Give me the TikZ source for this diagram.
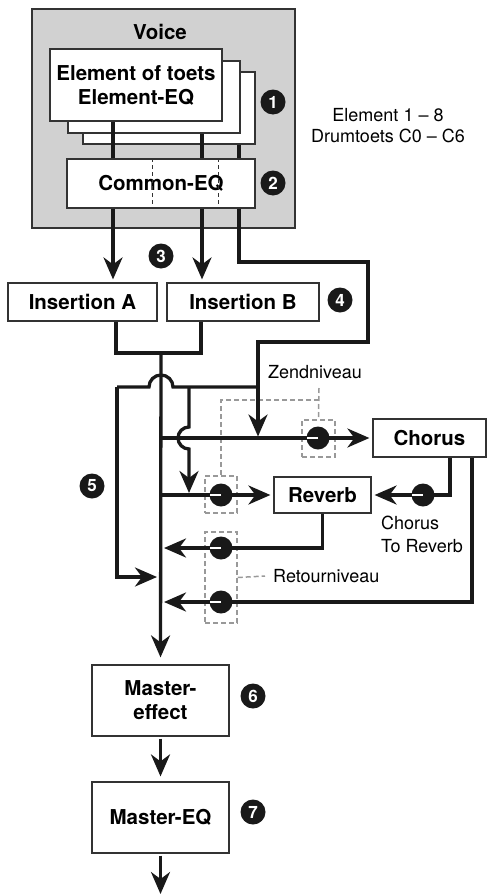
\documentclass[tikz,border=0pt]{standalone}
\usepackage{fontspec}
\setmainfont{TeX Gyre Heros}
\usetikzlibrary{arrows.meta}
\tikzset{
  >={Stealth[length=22pt,width=19pt,inset=7pt]},
  fxbox/.style={draw=black!80,line width=1.2pt,fill=white,inner sep=0pt,align=center,
    font=\fontsize{20.5}{24}\selectfont\bfseries},
  flow/.style={line width=3.3pt,draw=black!90},
  badge/.style={circle,fill=black!90,inner sep=0pt,minimum size=25pt,text=white,
    font=\fontsize{17}{17}\selectfont\bfseries},
  knob/.style={circle,fill=black!90,inner sep=0pt,minimum size=23pt,
    path picture={\draw[white,line width=2pt] (path picture bounding box.center) -- (path picture bounding box.west);}},
  lvl/.style={draw=black!40,line width=1.5pt,dash pattern=on 5pt off 3pt},
  note/.style={inner sep=0pt,align=left,font=\fontsize{18}{22}\selectfont}
}
\begin{document}
\begin{tikzpicture}[x=1pt,y=1pt]
    \useasboundingbox (0,0) rectangle (487,-894);
    \node[draw=black!80,fill=black!18,line width=1.2pt,minimum width=263pt,minimum height=219pt] (voice) at (163.5,-118.5) {};
    \node[font=\fontsize{20.5}{24}\selectfont\bfseries] (voice_t) at (160,-32) {Voice};
    \node[fxbox,minimum width=172pt,minimum height=72pt] (elem_3) at (169,-108) {};
    \node[fxbox,minimum width=172pt,minimum height=72pt] (elem_2) at (154,-97) {};
    \node[fxbox,minimum width=172pt,minimum height=72pt] (elem_1) at (136,-85) {Element of toets\\Element-EQ};
    \node[fxbox,minimum width=188pt,minimum height=49pt] (common) at (161,-183.5) {Common-EQ};
    \draw[black!80,line width=0.8pt,dash pattern=on 4pt off 3pt] ([xshift=-9pt]common.north) -- ([xshift=-9pt]common.south);
    \draw[black!80,line width=0.8pt,dash pattern=on 4pt off 3pt] ([xshift=57pt]common.north) -- ([xshift=57pt]common.south);
    \node[note,align=center,font=\fontsize{18}{21}\selectfont] (elem_n) at (388,-126) {Element 1 -- 8\\Drumtoets C0 -- C6};
    \node[fxbox,minimum width=149pt,minimum height=38pt] (ins_A) at (82.5,-302) {Insertion A};
    \node[fxbox,minimum width=152pt,minimum height=38pt] (ins_B) at (243,-302) {Insertion B};
    \node[fxbox,minimum width=113pt,minimum height=38pt] (chorus) at (429.5,-438) {Chorus};
    \node[fxbox,minimum width=97pt,minimum height=36pt] (reverb) at (322.5,-495) {Reverb};
    \node[fxbox,minimum width=137pt,minimum height=71pt] (master_1) at (160.5,-700.5) {Master-\\effect};
    \node[fxbox,minimum width=137pt,minimum height=71pt] (master_2) at (160.5,-817.5) {Master-EQ};
    \node[lvl,minimum width=33pt,minimum height=37pt] (lvl_1) at (318.5,-438.5) {};
    \node[lvl,minimum width=32pt,minimum height=37pt] (lvl_2) at (221,-494.5) {};
    \node[lvl,minimum width=32pt,minimum height=91pt] (lvl_3) at (221,-577.5) {};
    \node[note] (zend_t) at (315,-372) {Zendniveau};
    \node[note,anchor=west] (ret_t) at (273,-576) {Retourniveau};
    \node[note,anchor=west,font=\fontsize{18}{23}\selectfont] (cr_t) at (381,-534.5) {Chorus\\To Reverb};
    \coordinate (zend) at (319,-388);
    \coordinate (zend_k) at (319,-400);
    \draw[lvl] (zend) -- (lvl_1.north);
    \draw[lvl] (zend_k) -| (lvl_2.north);
    \draw[lvl] (lvl_3.east) -- ([xshift=-8pt]ret_t.west);
    \coordinate (bus) at (161,-353);
    \coordinate (j_send) at (258,-387);
    \coordinate (j_rev) at (189,-387);
    \coordinate (j_left) at (117,-387);
    \coordinate (feed) at (157,-577);
    \coordinate (ret_1) at (164,-548);
    \coordinate (ret_2) at (164,-602);
    \coordinate (k_1) at (318,-438);
    \coordinate (k_2) at (221,-495);
    \coordinate (k_3) at (423,-495);
    \coordinate (k_4) at (221,-548);
    \coordinate (k_5) at (221,-602);
    \draw[flow] ([xshift=-23pt]elem_1.south) -- ([xshift=-48pt]common.north);
    \draw[flow] ([xshift=48pt]elem_2.south) -- ([xshift=41pt]common.north);
    \draw[flow] ([xshift=70pt]elem_3.south) -- ([xshift=78pt]common.north);
    \draw[flow,->,shorten >=3pt] ([xshift=-48pt]common.south) -- ([xshift=30.5pt]ins_A.north);
    \draw[flow,->,shorten >=3pt] ([xshift=41pt]common.south) -- ([xshift=-41pt]ins_B.north);
    \draw[flow] ([xshift=78pt]common.south) |- (368,-262) |- (258,-342) -- (j_send);
    \draw[flow,->] (j_send) -- ([yshift=1.5pt]j_send |- k_1);
    \draw[flow] ([xshift=33.5pt]ins_A.south) |- (bus) -| ([xshift=-42pt]ins_B.south);
    \draw[flow,->,shorten >=7pt] (bus) -- (master_1.north);
    \draw[flow] (j_send) -- (173,-387) arc (0:180:12) -- (j_left);
    \draw[flow,->] (j_left) |- (feed);
    \draw[flow,->] (j_rev) -- (189,-427) arc (90:270:11) -- ([yshift=2pt]j_rev |- k_2);
    \draw[flow,->,shorten >=3pt] (bus |- k_1) -- (chorus.west);
    \draw[flow,->,shorten >=3pt] (bus |- k_2) -- (reverb.west);
    \draw[flow,->,shorten >=3pt] ([xshift=20.5pt]chorus.south) |- (reverb.east);
    \draw[flow,->] (reverb.south) |- (ret_1);
    \draw[flow,->] ([xshift=42.5pt]chorus.south) |- (ret_2);
    \draw[flow,->,shorten <=2pt,shorten >=5pt] (master_1.south) -- (master_2.north);
    \coordinate (out) at (160.5,-894);
    \draw[flow,->,shorten <=2pt] (master_2.south) -- (out);
    \node[knob] (knob_1) at (k_1) {};
    \node[knob] (knob_2) at (k_2) {};
    \node[knob] (knob_3) at (k_3) {};
    \node[knob] (knob_4) at (k_4) {};
    \node[knob] (knob_5) at (k_5) {};
    \node[badge] (n_1) at (273,-102) {1};
    \node[badge] (n_2) at (273,-183) {2};
    \node[badge] (n_3) at (161,-256) {3};
    \node[badge] (n_4) at (340,-300) {4};
    \node[badge] (n_5) at (92,-486) {5};
    \node[badge] (n_6) at (253,-696) {6};
    \node[badge] (n_7) at (253,-812) {7};
\end{tikzpicture}
\end{document}
